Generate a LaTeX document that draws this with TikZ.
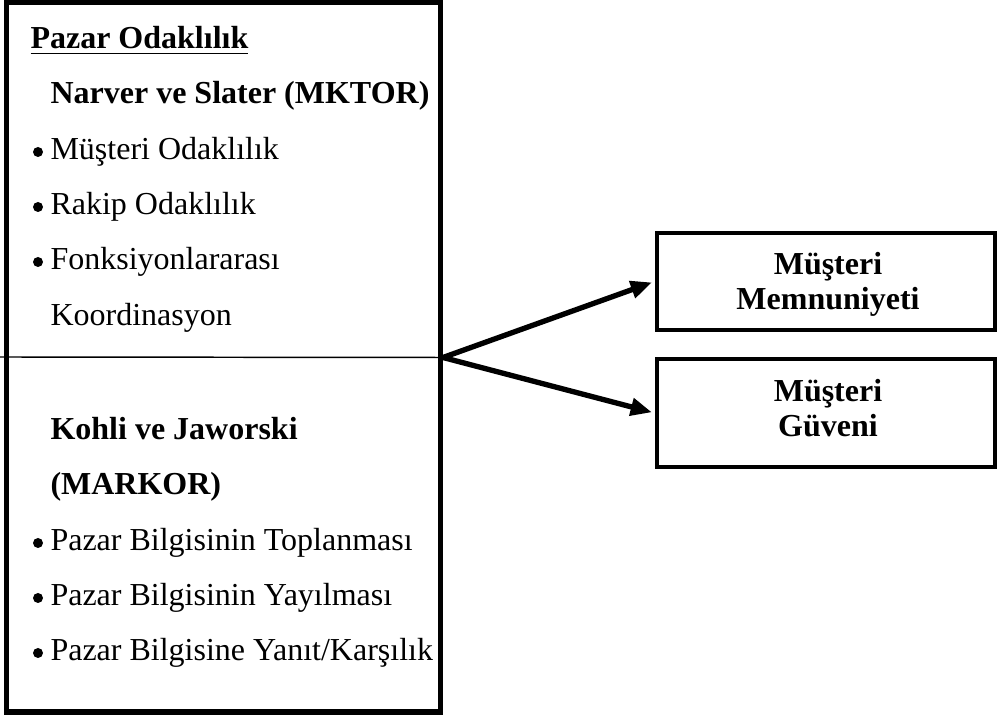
\documentclass[tikz,border=0pt]{standalone}
\usepackage{fontspec}
\setmainfont{Liberation Serif}
\usetikzlibrary{arrows.meta}
\begin{document}
\begin{tikzpicture}[x=0.375pt,y=-0.375pt,
  txt/.style={anchor=base west,inner sep=0pt,font=\fontsize{12}{13.2}\selectfont},
  hd/.style={anchor=base west,inner sep=0pt,font=\fontsize{12}{13.2}\selectfont\bfseries},
  panel/.style={draw,line width=1.9pt,inner sep=0pt},
  result/.style={draw,line width=1.8pt,inner sep=0pt,minimum width=126.75pt},
  rtxt/.style={anchor=base,inner sep=0pt,font=\fontsize{12}{13.2}\selectfont\bfseries},
  divider/.style={line width=0.55pt},
  link/.style={line width=2pt,shorten >=1pt,-{Triangle[length=8pt,width=6.4pt]}}]
\useasboundingbox (0,0) rectangle (999,715);

% left panel with the two orientation scales
\node[panel,minimum width=162.75pt,minimum height=265.9pt] (mo) at (223.5,357.5) {};
\coordinate (j) at (mo.east);
\coordinate (dl) at (0,357);
\draw[divider] (dl) -- (j);

\node[hd] (t1) at (30,49) {\underline{Pazar Odaklılık}};
\node[hd] (t2) at (50,104) {Narver ve Slater (MKTOR)};
\node[txt] (t3) at (50,160) {Müşteri Odaklılık};
\node[txt] (t4) at (50,215) {Rakip Odaklılık};
\node[txt] (t5) at (50,270) {Fonksiyonlararası};
\node[txt] (t6) at (50,326) {Koordinasyon};
\node[hd] (t7) at (50,440) {Kohli ve Jaworski};
\node[hd] (t8) at (50,495) {(MARKOR)};
\node[txt] (t9) at (50,551) {Pazar Bilgisinin Toplanması};
\node[txt] (t10) at (50,606) {Pazar Bilgisinin Yayılması};
\node[txt] (t11) at (50,661) {Pazar Bilgisine Yanıt/Karşılık};

% list bullets
\foreach \n in {t3,t4,t5,t9,t10,t11}
  \fill ([shift={(-12,-8)}]\n.base west) circle (5);

% outcome boxes
\node[result,minimum height=36.4pt] (ms) at (826,281.5) {};
\node[rtxt] (ms1) at (828,275) {Müşteri};
\node[rtxt] (ms2) at (828,310) {Memnuniyeti};
\node[result,minimum height=40.5pt] (mg) at (826,413) {};
\node[rtxt] (mg1) at (828,402) {Müşteri};
\node[rtxt] (mg2) at (828,437) {Güveni};

% effects
\draw[link] (j) -- (ms.west);
\draw[link] (j) -- (mg.west);
\end{tikzpicture}
\end{document}
